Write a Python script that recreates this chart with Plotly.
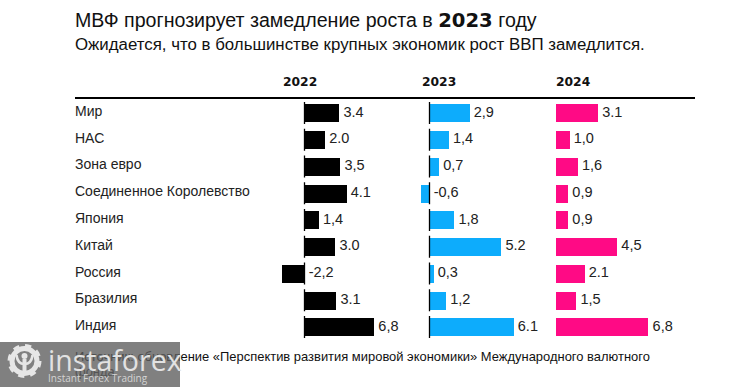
import plotly.graph_objects as go

W, H = 749, 387
countries = ["Мир", "НАС", "Зона евро", "Соединенное Королевство", "Япония", "Китай", "Россия", "Бразилия", "Индия"]
years = ["2022", "2023", "2024"]
v2022 = [3.4, 2.0, 3.5, 4.1, 1.4, 3.0, -2.2, 3.1, 6.8]
v2023 = [2.9, 1.4, 0.7, -0.6, 1.8, 5.2, 0.3, 1.2, 6.1]
v2024 = [3.1, 1.0, 1.6, 0.9, 0.9, 4.5, 2.1, 1.5, 6.8]
l2022 = ["3.4", "2.0", "3,5", "4.1", "1,4", "3.0", "-2,2", "3.1", "6,8"]
l2023 = ["2,9", "1,4", "0,7", "-0,6", "1,8", "5.2", "0,3", "1,2", "6.1"]
l2024 = ["3.1", "1,0", "1,6", "0,9", "0,9", "4,5", "2.1", "1,5", "6,8"]
colors = ["#000000", "#0DACFC", "#FF0A85"]
values = [v2022, v2023, v2024]
labels = [l2022, l2023, l2024]
# panel geometry: (left px, right px, zero px, px per unit)
panels = [(270, 410, 304.5, 10.25), (412, 552, 429.5, 13.8), (553, 700, 556, 13.6)]

FONT = "Liberation Sans"
HEAD = "DejaVu Sans"
px = lambda x: x / W
py = lambda y: 1 - y / H

fig = go.Figure()
for i, (vals, labs, col, p) in enumerate(zip(values, labels, colors, panels)):
    xa = f"x{i+1}" if i else "x"
    fig.add_trace(go.Bar(x=vals, y=countries, orientation="h", marker=dict(color=col, line_width=0),
                         width=0.673, xaxis=xa, yaxis="y", showlegend=False, hoverinfo="skip"))
    fig.add_trace(go.Scatter(x=[max(v, 0) for v in vals], y=countries, mode="markers+text", text=labs,
                             marker=dict(size=5, opacity=0),
                             textposition="middle right", xaxis=xa, yaxis="y", showlegend=False,
                             textfont=dict(family=FONT, size=14.5, color="#222222"), hoverinfo="skip"))
    left, right, zero, scale = p
    fig.layout[f"xaxis{i+1}" if i else "xaxis"] = dict(
        domain=[px(left), px(right)], range=[(left - zero) / scale, (right - zero) / scale],
        visible=False, anchor="y", fixedrange=True)
    if i < 2:
        for j in range(len(countries)):
            fig.add_shape(type="line", xref=xa, yref="y", x0=0, x1=0, y0=j - 0.41, y1=j + 0.41,
                          line=dict(color="#000000", width=1.3))
    fig.add_annotation(text=f"<b>{years[i]}</b>", xref="paper", yref="paper",
                       x=px([281, 419.5, 554][i]), y=py(82), xanchor="left", yanchor="middle", showarrow=False,
                       font=dict(family=HEAD, size=12.3, color="#111111"))

fig.update_layout(
    width=W, height=H, margin=dict(l=0, r=0, t=0, b=0, autoexpand=False),
    paper_bgcolor="white", plot_bgcolor="white", autosize=False,
    yaxis=dict(domain=[py(340.4), py(99.6)], categoryorder="array", categoryarray=countries,
               autorange=False, range=[8.5, -0.5], visible=False, fixedrange=True),
    bargap=0, barmode="overlay",
)

for c in countries:
    fig.add_annotation(text=c, xref="paper", yref="y", x=px(73), y=c, xanchor="left", yanchor="middle",
                       yshift=2, showarrow=False, font=dict(family=FONT, size=14, color="#222222"))

def txt(t, x, y, size, color="#111111", family=FONT):
    fig.add_annotation(text=t, xref="paper", yref="paper", x=px(x), y=py(y), xanchor="left", yanchor="middle",
                       showarrow=False, font=dict(family=family, size=size, color=color))

txt("МВФ прогнозирует замедление роста в <b style='font-family:DejaVu Sans'>2023</b> году", 73, 20, 19.6)
txt("Ожидается, что в большинстве крупных экономик рост ВВП замедлится.", 73, 44, 16.85)
txt("<span style='color:#4d4d4d'>Источник: обновл</span>ение «Перспектив развития мировой экономики» Международного валютного", 73, 356, 12.95)
txt("фонда", 73, 371, 12.95, "#555555")

fig.add_shape(type="line", xref="paper", yref="paper", x0=px(75), x1=px(695), y0=py(98), y1=py(98),
              line=dict(color="#000000", width=2))

# watermark
def wshape(**k):
    fig.add_shape(xref="paper", yref="paper", **k)
wshape(type="rect", x0=0, x1=px(180), y0=py(342), y1=py(387), fillcolor="#808080", line_width=0)
# gear: a ring, dashed outer ring for the teeth, and the Y figure inside
cx, cy = 24.5, 361
wshape(type="circle", x0=px(cx - 12.5), x1=px(cx + 12.5), y0=py(cy + 12.5), y1=py(cy - 12.5),
       line=dict(color="#E6E6E6", width=5))
wshape(type="circle", x0=px(cx - 15), x1=px(cx + 15), y0=py(cy + 15), y1=py(cy - 15),
       line=dict(color="#E6E6E6", width=4, dash="6px,5.8px"))
wshape(type="circle", x0=px(cx - 3), x1=px(cx + 3), y0=py(cy - 2), y1=py(cy - 8), fillcolor="#E6E6E6", line_width=0)
wshape(type="line", x0=px(cx), x1=px(cx), y0=py(cy - 2), y1=py(cy + 12), line=dict(color="#E6E6E6", width=4))
wshape(type="path", path=f"M {px(cx-8)} {py(cy-6)} Q {px(cx-7)} {py(cy+3)} {px(cx)} {py(cy+3)} Q {px(cx+7)} {py(cy+3)} {px(cx+8)} {py(cy-6)}",
       line=dict(color="#E6E6E6", width=2.5))
txt("instaforex", 46, 360, 28.5, "#E2E2E2", "Open Sans")
txt("Instant Forex Trading", 46, 378, 10, "#D4D4D4", "Open Sans")

fig.write_html("out.html", post_script="document.body.style.margin='0';", config={"displayModeBar": False})
